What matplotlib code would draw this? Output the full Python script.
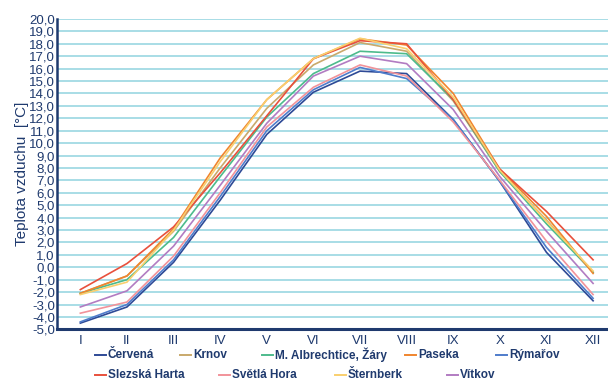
import matplotlib
matplotlib.use("Agg")
import matplotlib.pyplot as plt
from matplotlib.lines import Line2D

plt.rcParams['font.family'] = ['Liberation Sans', 'DejaVu Sans']

# měsíce a průměrné teploty vzduchu ve stanicích
mesice = ['I', 'II', 'III', 'IV', 'V', 'VI', 'VII', 'VIII', 'IX', 'X', 'XI', 'XII']

cervena = [-4.5, -3.2, 0.4, 5.4, 10.7, 14.1, 15.8, 15.6, 11.9, 6.9, 1.2, -2.7]
krnov = [-2.1, -0.7, 2.9, 8.0, 12.8, 16.3, 18.1, 17.4, 13.4, 7.7, 3.8, -0.4]
albrechtice = [-2.1, -1.0, 2.4, 7.3, 12.1, 15.6, 17.4, 17.2, 13.5, 7.7, 3.5, -0.4]
paseka = [-2.1, -0.7, 3.1, 8.8, 13.5, 16.8, 18.4, 17.9, 14.0, 7.9, 4.1, -0.5]
rymarov = [-4.4, -3.0, 0.6, 5.7, 11.0, 14.3, 16.1, 15.2, 11.9, 6.9, 1.6, -2.5]
slezska_harta = [-1.8, 0.3, 3.25, 7.6, 12.2, 16.8, 18.25, 18.0, 13.5, 7.9, 4.5, 0.6]
svetla_hora = [-3.7, -2.8, 0.9, 6.0, 11.3, 14.5, 16.3, 15.4, 11.7, 7.0, 2.1, -2.2]
sternberk = [-2.2, -1.2, 3.0, 8.5, 13.5, 16.8, 18.45, 17.6, 13.7, 7.8, 3.7, -0.3]
vitkov = [-3.2, -1.9, 1.7, 6.6, 11.6, 15.4, 17.0, 16.4, 12.7, 7.3, 2.9, -1.3]

stanice = ['Červená', 'Krnov', 'M. Albrechtice, Žáry', 'Paseka', 'Rýmařov',
           'Slezská Harta', 'Světlá Hora', 'Šternberk', 'Vítkov']
rady = [cervena, krnov, albrechtice, paseka, rymarov,
        slezska_harta, svetla_hora, sternberk, vitkov]
barvy = ['#2E4A96', '#C9A96B', '#4DBB8C', '#F0852E', '#4F7CCB',
         '#E8503C', '#F2939A', '#F9CF6E', '#B27CC2']

navy = '#1F3A6E'

fig = plt.figure(figsize=(6.08, 3.87), dpi=100)
ax = fig.add_axes([0.0938, 0.149, 0.92, 0.802])

x = list(range(len(mesice)))
for hodnoty, barva in zip(rady, barvy):
    ax.plot(x, hodnoty, color=barva, lw=1.2, zorder=3)

ax.set_xlim(-0.5, 11.5)
ax.set_ylim(-5, 20)
ax.set_yticks(range(-5, 21))
ax.set_yticklabels([f'{v:.1f}'.replace('.', ',') for v in range(-5, 21)],
                   fontsize=9.5, color=navy)
ax.set_xticks(x)
ax.set_xticklabels(mesice, fontsize=9.5, color=navy)
ax.tick_params(length=0, pad=1.5)
ax.tick_params(axis='x', pad=4)

ax.grid(axis='y', color='#A8DDE6', lw=1.4, zorder=0)
for s in ['top', 'right']:
    ax.spines[s].set_visible(False)
ax.spines['left'].set_color(navy)
ax.spines['left'].set_linewidth(1.8)
ax.spines['bottom'].set_color(navy)
ax.spines['bottom'].set_linewidth(2.2)
ax.spines['left'].set_zorder(4)
ax.spines['bottom'].set_zorder(4)

ax.set_ylabel('Teplota vzduchu  [°C]', fontsize=11, color=navy, labelpad=0)

# legenda ve dvou řádcích
pozice = [(95, 355), (180, 355), (262, 355), (405, 355), (496, 355),
          (95, 375), (219, 375), (335, 375), (447, 375)]
W, H = 608, 387
for (px, py), jmeno, barva in zip(pozice, stanice, barvy):
    fy = 1 - py / H
    fig.add_artist(Line2D([px / W, (px + 11) / W], [fy, fy], color=barva,
                          lw=1.4, transform=fig.transFigure))
    fig.text((px + 13) / W, fy, jmeno, fontsize=8.5, fontweight='bold',
             color=navy, va='center', ha='left')

fig.savefig('out.png', dpi=100)
